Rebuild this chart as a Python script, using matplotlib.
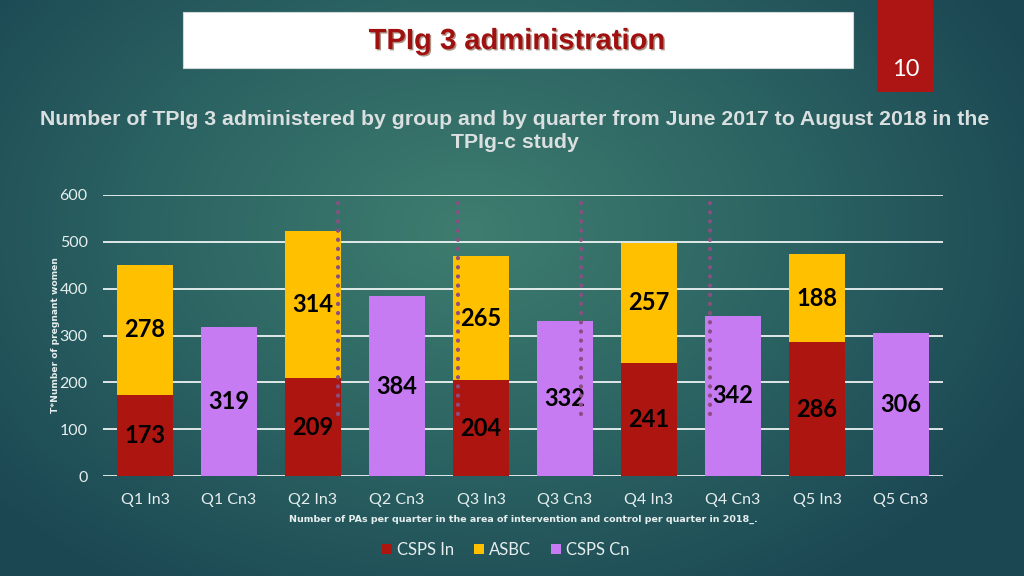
import numpy as np
import matplotlib.pyplot as plt
import matplotlib.patheffects as pe
from matplotlib.colors import LinearSegmentedColormap
from matplotlib.patches import Rectangle

categories = ['Q1 In3', 'Q1 Cn3', 'Q2 In3', 'Q2 Cn3', 'Q3 In3',
              'Q3 Cn3', 'Q4 In3', 'Q4 Cn3', 'Q5 In3', 'Q5 Cn3']
csps_in = [173, 209, 204, 241, 286]
asbc = [278, 314, 265, 257, 188]
csps_cn = [319, 384, 332, 342, 306]

# decorative dotted dividers (data x, y from/to)
divider_x = [2.30, 3.73, 5.19, 6.73]
divider_y = (583, 128)

c_red = '#ad1511'
c_yel = '#ffc000'
c_pur = '#c77bf2'
c_txt = '#e6eeee'

fig = plt.figure(figsize=(10.24, 5.76), dpi=100)

# background radial gradient
bg = fig.add_axes([0, 0, 1, 1], zorder=-10)
yy, xx = np.mgrid[0:576, 0:1024]
r = np.sqrt(((xx - 470) / 620.0) ** 2 + ((yy - 230) / 430.0) ** 2)
r = np.clip(r, 0, 1)
cmap = LinearSegmentedColormap.from_list('bg', ['#3e7d6f', '#2c6463', '#1b4753'])
bg.imshow(r, cmap=cmap, aspect='auto', extent=[0, 1, 0, 1], vmin=0, vmax=1)
bg.set_xlim(0, 1)
bg.set_ylim(0, 1)
bg.axis('off')

# title box and page number box
fig.add_artist(Rectangle((183 / 1024, 1 - 68 / 576), 670 / 1024, 56 / 576,
                         transform=fig.transFigure, facecolor='white',
                         edgecolor='#cfd8d8', lw=0.8))
fig.text(517 / 1024, 1 - 41 / 576, 'TPIg 3 administration', ha='center', va='center',
         fontsize=21, fontweight='bold', color='#a01010', family='Liberation Sans',
         zorder=5,
         path_effects=[pe.withSimplePatchShadow(offset=(1, -1), shadow_rgbFace='#5a2a10', alpha=0.5)])
fig.add_artist(Rectangle((877 / 1024, 1 - 92 / 576), 56 / 1024, 92 / 576,
                         transform=fig.transFigure, facecolor='#ad1515', edgecolor='none'))
fig.text(906 / 1024, 1 - 69 / 576, '10', ha='center', va='center', fontsize=17,
         color='white', family='Lato', zorder=5)

fig.text(515 / 1024, 1 - 131 / 576,
         'Number of TPIg 3 administered by group and by quarter from June 2017 to August 2018 in the\nTPIg-c study',
         ha='center', va='center', fontsize=15.3, fontweight='bold', color='#dadfe0',
         family='Liberation Sans', linespacing=1.25)

ax = fig.add_axes([103 / 1024, 1 - 476 / 576, 840 / 1024, 281 / 576])
ax.set_facecolor('none')
x = np.arange(len(categories))
xi = x[0::2]
xc = x[1::2]
w = 0.667

b1 = ax.bar(xi, csps_in, w, color=c_red, label='CSPS In', zorder=3)
b2 = ax.bar(xi, asbc, w, bottom=csps_in, color=c_yel, label='ASBC', zorder=3)
b3 = ax.bar(xc, csps_cn, w, color=c_pur, label='CSPS Cn', zorder=3)

for bars in (b1, b2, b3):
    ax.bar_label(bars, label_type='center', fontsize=17, fontweight='bold',
                 color='black', family='Lato')

for dx in divider_x:
    ax.plot([dx, dx], divider_y, color='#8a4f82', lw=3.0,
            linestyle=(0, (0.05, 2.15)), dash_capstyle='round', zorder=4)

ax.set_xlim(-0.5, 9.5)
ax.set_ylim(0, 600)
ax.set_yticks(range(0, 601, 100))
ax.grid(axis='y', color='white', lw=1.2, zorder=0)
ax.set_axisbelow(True)
for s in ax.spines.values():
    s.set_visible(False)
ax.tick_params(length=0, colors=c_txt, labelsize=11.5)
ax.tick_params(axis='y', pad=11)
ax.tick_params(axis='x', pad=12)
ax.set_xticks(x)
ax.set_xticklabels(categories, family='Lato')
for lab in ax.get_yticklabels():
    lab.set_family('Lato')
ax.set_ylabel('T*Number of pregnant women', fontsize=6.6, fontweight='bold',
              color=c_txt, labelpad=0)
ax.set_xlabel('Number of PAs per quarter in the area of intervention and control per quarter in 2018_.',
              fontsize=6.8, fontweight='bold', color=c_txt, labelpad=6)

leg = fig.legend(handles=[b1, b2, b3], loc='center', bbox_to_anchor=(506 / 1024, 1 - 550 / 576),
                 ncol=3, frameon=False, fontsize=12, handlelength=0.6, handleheight=0.6,
                 handletextpad=0.3, columnspacing=1.2)
for t in leg.get_texts():
    t.set_color(c_txt)
    t.set_family('Lato')

fig.savefig('out.png', dpi=100)
